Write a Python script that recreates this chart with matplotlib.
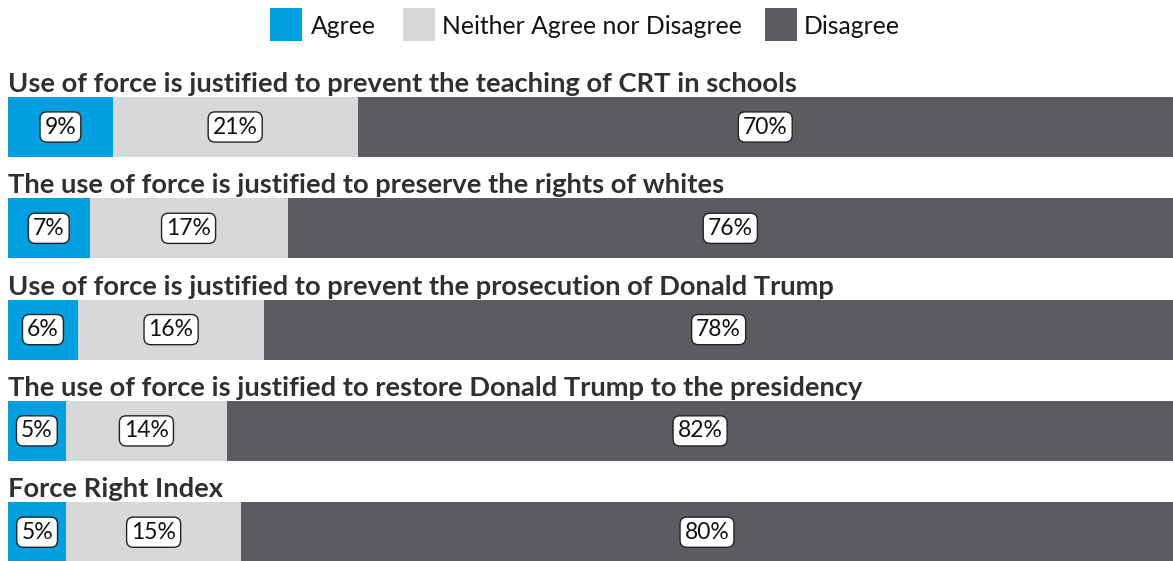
import numpy as np
import matplotlib.pyplot as plt
from matplotlib.patches import Rectangle

plt.rcParams['font.family'] = ['Lato', 'DejaVu Sans']

# Survey statements and response shares (%)
statements = [
    "Use of force is justified to prevent the teaching of CRT in schools",
    "The use of force is justified to preserve the rights of whites",
    "Use of force is justified to prevent the prosecution of Donald Trump",
    "The use of force is justified to restore Donald Trump to the presidency",
    "Force Right Index",
]
agree = [9, 7, 6, 5, 5]
neither = [21, 17, 16, 14, 15]
disagree = [70, 76, 78, 82, 80]

responses = ["Agree", "Neither Agree nor Disagree", "Disagree"]
colors = ["#009fdf", "#d7d8da", "#5b5c61"]
title_color = "#2e3034"

W, H = 1173, 561
fig = plt.figure(figsize=(W / 100, H / 100), dpi=100)

# one data unit = one row (~101 px); first bar centred at 127 px from top
row_px = 101.3
first_center = 127
ax = fig.add_axes([8 / W, 0, 1 - 8 / W, 1])
ax.set_xlim(0, 1)
ax.set_ylim((H - first_center) / row_px, -first_center / row_px)
ax.axis('off')

bar_h = 60 / row_px
for i, name in enumerate(statements):
    vals = [agree[i], neither[i], disagree[i]]
    total = sum(vals)
    left = 0
    for v, c in zip(vals, colors):
        w = v / total
        ax.barh(i, w, left=left, height=bar_h, color=c, edgecolor='none')
        ax.text(left + w / 2, i, f"{v}%", ha='center', va='center',
                fontsize=16.5, color='#111111',
                bbox=dict(boxstyle='round,pad=0.2,rounding_size=0.3',
                          facecolor='white', edgecolor='#222222', linewidth=1))
        left += w
    ax.text(0, i - 43 / row_px, name, ha='left', va='center',
            fontsize=19.7, fontweight='bold', color=title_color)

# legend across the top: (swatch x, label x) in pixels
legend_pos = [(270, 311), (403, 442), (765, 804)]
for (sx, tx), lab, c in zip(legend_pos, responses, colors):
    fig.add_artist(Rectangle((sx / W, 1 - 41 / H), 32 / W, 33 / H,
                             transform=fig.transFigure, facecolor=c,
                             edgecolor='none'))
    fig.text(tx / W, 1 - 26.5 / H, lab, ha='left', va='center',
             fontsize=17.8, color='#111111')

fig.savefig("out.png", dpi=100)
